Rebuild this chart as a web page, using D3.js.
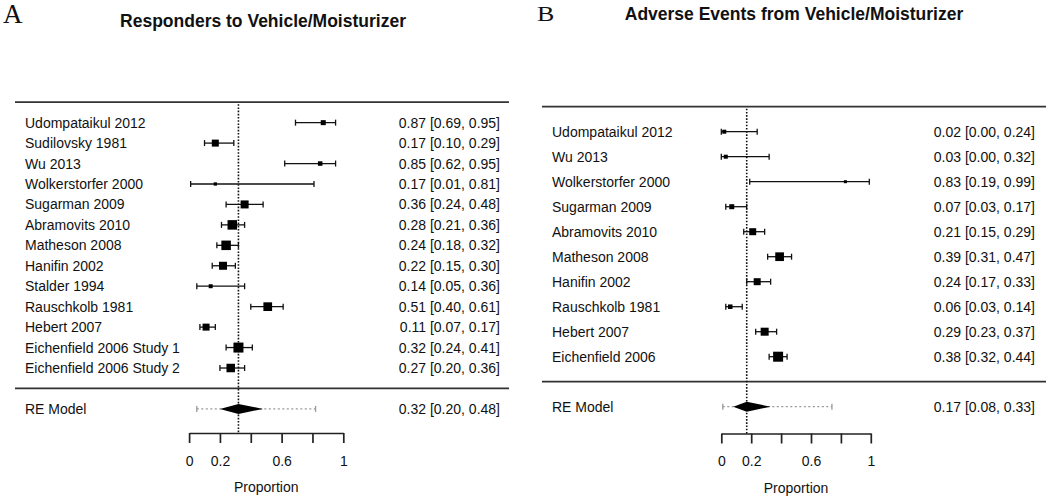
<!DOCTYPE html>
<html>
<head>
<meta charset="utf-8">
<script src="https://cdn.jsdelivr.net/npm/d3@7"></script>
<style>
  html, body { margin: 0; padding: 0; background: #fff; }
  svg { display: block; }
  text { font-family: "Liberation Sans", Arial, Helvetica, sans-serif; fill: #111; }
</style>
</head>
<body>
<svg id="chart" width="1050" height="499"></svg>
<script>
// ---------- Panel A data ----------
const studiesA = ["Udompataikul 2012", "Sudilovsky 1981", "Wu 2013", "Wolkerstorfer 2000",
  "Sugarman 2009", "Abramovits 2010", "Matheson 2008", "Hanifin 2002", "Stalder 1994",
  "Rauschkolb 1981", "Hebert 2007", "Eichenfield 2006 Study 1", "Eichenfield 2006 Study 2"];
const estA = [0.87, 0.17, 0.85, 0.17, 0.36, 0.28, 0.24, 0.22, 0.14, 0.51, 0.11, 0.32, 0.27];
const lowA = [0.69, 0.10, 0.62, 0.01, 0.24, 0.21, 0.18, 0.15, 0.05, 0.40, 0.07, 0.24, 0.20];
const highA = [0.95, 0.29, 0.95, 0.81, 0.48, 0.36, 0.32, 0.30, 0.36, 0.61, 0.17, 0.41, 0.36];
const weightA = [5.0, 7.0, 4.5, 3.3, 8.0, 9.5, 9.5, 8.0, 4.0, 8.7, 7.0, 10.0, 8.5];
const summaryA = { label: "RE Model", est: 0.32, low: 0.20, high: 0.48, piLow: 0.05, piHigh: 0.82 };

// ---------- Panel B data ----------
const studiesB = ["Udompataikul 2012", "Wu 2013", "Wolkerstorfer 2000", "Sugarman 2009",
  "Abramovits 2010", "Matheson 2008", "Hanifin 2002", "Rauschkolb 1981", "Hebert 2007",
  "Eichenfield 2006"];
const estB = [0.02, 0.03, 0.83, 0.07, 0.21, 0.39, 0.24, 0.06, 0.29, 0.38];
const lowB = [0.00, 0.00, 0.19, 0.03, 0.15, 0.31, 0.17, 0.03, 0.23, 0.32];
const highB = [0.24, 0.32, 0.99, 0.17, 0.29, 0.47, 0.33, 0.14, 0.37, 0.44];
const weightB = [4.0, 4.0, 3.0, 5.0, 7.0, 8.7, 7.0, 4.5, 8.0, 10.0];
const summaryB = { label: "RE Model", est: 0.17, low: 0.08, high: 0.33, piLow: 0.01, piHigh: 0.74 };

// ---------- Axis ----------
const tickValues = [0, 0.2, 0.4, 0.6, 0.8, 1];
const tickLabels = ["0", "0.2", "", "0.6", "", "1"];
const axisTitle = "Proportion";

const svg = d3.select("#chart");
const fmt = d3.format(".2f");

function drawPanel(cfg) {
  const g = svg.append("g");
  const k = cfg.studies.length;
  const x = d3.scaleLinear().domain([0, 1]).range(cfg.xRange);
  const y = d3.scaleLinear().domain([-1, k + 1]).range([cfg.yRowMinus1, cfg.yTop]);
  const sz = d3.scaleLinear().domain([0, 10]).range([0, 10]);

  // panel letter
  g.append("text")
    .attr("transform", `translate(${cfg.letterX},${cfg.letterY}) scale(${cfg.letterSX},1)`)
    .style("font-family", "'Liberation Serif', 'Times New Roman', serif")
    .style("font-size", cfg.letterSize + "px")
    .text(cfg.letter);

  // title
  g.append("text")
    .attr("x", cfg.titleX).attr("y", cfg.titleY)
    .attr("text-anchor", "middle")
    .style("font-size", "17.5px").style("font-weight", "bold")
    .text(cfg.title);

  // horizontal lines (top and separator)
  [k + 1, 0].forEach(r => {
    g.append("line")
      .attr("x1", cfg.lineX[0]).attr("x2", cfg.lineX[1])
      .attr("y1", y(r)).attr("y2", y(r))
      .attr("stroke", "#333").attr("stroke-width", 1.7);
  });

  // vertical dotted line at summary estimate
  g.append("line")
    .attr("x1", x(cfg.summary.est)).attr("x2", x(cfg.summary.est))
    .attr("y1", y(k + 1) + 2).attr("y2", cfg.axisY)
    .attr("stroke", "#111").attr("stroke-width", 1.6)
    .attr("stroke-dasharray", "1.6,1.6");

  const rows = cfg.studies.map((s, i) => ({
    name: s, est: cfg.est[i], low: cfg.low[i], high: cfg.high[i], w: cfg.weight[i], row: k - i
  }));

  const rg = g.selectAll("g.row").data(rows).join("g").attr("class", "row");
  rg.append("line")
    .attr("x1", d => x(d.low)).attr("x2", d => x(d.high))
    .attr("y1", d => y(d.row)).attr("y2", d => y(d.row))
    .attr("stroke", "#111").attr("stroke-width", 1.3);
  [d => d.low, d => d.high].forEach(acc => {
    rg.append("line")
      .attr("x1", d => x(acc(d))).attr("x2", d => x(acc(d)))
      .attr("y1", d => y(d.row) - 3).attr("y2", d => y(d.row) + 3)
      .attr("stroke", "#111").attr("stroke-width", 1.3);
  });
  rg.append("rect")
    .attr("x", d => x(d.est) - sz(d.w) / 2)
    .attr("y", d => y(d.row) - sz(d.w) / 2)
    .attr("width", d => sz(d.w)).attr("height", d => sz(d.w))
    .attr("fill", "#000");
  rg.append("text")
    .attr("x", cfg.leftTextX).attr("y", d => y(d.row)).attr("dy", "0.36em")
    .style("font-size", "14px")
    .text(d => d.name);
  rg.append("text")
    .attr("x", cfg.rightTextX).attr("y", d => y(d.row)).attr("dy", "0.36em")
    .attr("text-anchor", "end")
    .style("font-size", "14px")
    .text(d => `${fmt(d.est)} [${fmt(d.low)}, ${fmt(d.high)}]`);

  // summary
  const s = cfg.summary;
  const ys = y(-1);
  g.append("line")
    .attr("x1", x(s.piLow)).attr("x2", x(s.piHigh))
    .attr("y1", ys).attr("y2", ys)
    .attr("stroke", "#999").attr("stroke-width", 1.3)
    .attr("stroke-dasharray", "2,2.5");
  [s.piLow, s.piHigh].forEach(v => {
    g.append("line")
      .attr("x1", x(v)).attr("x2", x(v))
      .attr("y1", ys - 3).attr("y2", ys + 3)
      .attr("stroke", "#999").attr("stroke-width", 1.3);
  });
  g.append("path")
    .attr("d", `M${x(s.low)},${ys} L${x(s.est)},${ys - 5} L${x(s.high)},${ys} L${x(s.est)},${ys + 5} Z`)
    .attr("fill", "#000");
  g.append("text")
    .attr("x", cfg.leftTextX).attr("y", ys).attr("dy", "0.36em")
    .style("font-size", "14px").text(s.label);
  g.append("text")
    .attr("x", cfg.rightTextX).attr("y", ys).attr("dy", "0.36em")
    .attr("text-anchor", "end")
    .style("font-size", "14px")
    .text(`${fmt(s.est)} [${fmt(s.low)}, ${fmt(s.high)}]`);

  // axis
  const axis = d3.axisBottom(x)
    .tickValues(tickValues)
    .tickFormat((d, i) => tickLabels[i])
    .tickSize(10).tickSizeOuter(0).tickPadding(13);
  const ag = g.append("g").attr("transform", `translate(0,${cfg.axisY})`).call(axis);
  ag.select(".domain").attr("stroke", "#222").attr("stroke-width", 1.7);
  ag.selectAll(".tick line").attr("stroke", "#222").attr("stroke-width", 1.7);
  ag.selectAll(".tick text")
    .style("font-size", "14px")
    .style("font-family", "'Liberation Sans', Arial, sans-serif")
    .attr("fill", "#111");

  g.append("text")
    .attr("x", (cfg.xRange[0] + cfg.xRange[1]) / 2).attr("y", cfg.axisTitleY)
    .attr("text-anchor", "middle")
    .style("font-size", "14px")
    .text(axisTitle);
}

drawPanel({
  letter: "A", letterX: 3, letterY: 23, letterSize: 27, letterSX: 1,
  title: "Responders to Vehicle/Moisturizer", titleX: 263, titleY: 27,
  studies: studiesA, est: estA, low: lowA, high: highA, weight: weightA, summary: summaryA,
  xRange: [189.1, 343.3], yTop: 102.2, yRowMinus1: 408.9,
  lineX: [15, 509], leftTextX: 25, rightTextX: 500,
  axisY: 433, axisTitleY: 491.5
});

drawPanel({
  letter: "B", letterX: 537, letterY: 20.5, letterSize: 20, letterSX: 1.3,
  title: "Adverse Events from Vehicle/Moisturizer", titleX: 794, titleY: 20,
  studies: studiesB, est: estB, low: lowB, high: highB, weight: weightB, summary: summaryB,
  xRange: [721.3, 870.8], yTop: 106.7, yRowMinus1: 406.7,
  lineX: [542, 1046], leftTextX: 552, rightTextX: 1035,
  axisY: 433.5, axisTitleY: 493
});
</script>
</body>
</html>
